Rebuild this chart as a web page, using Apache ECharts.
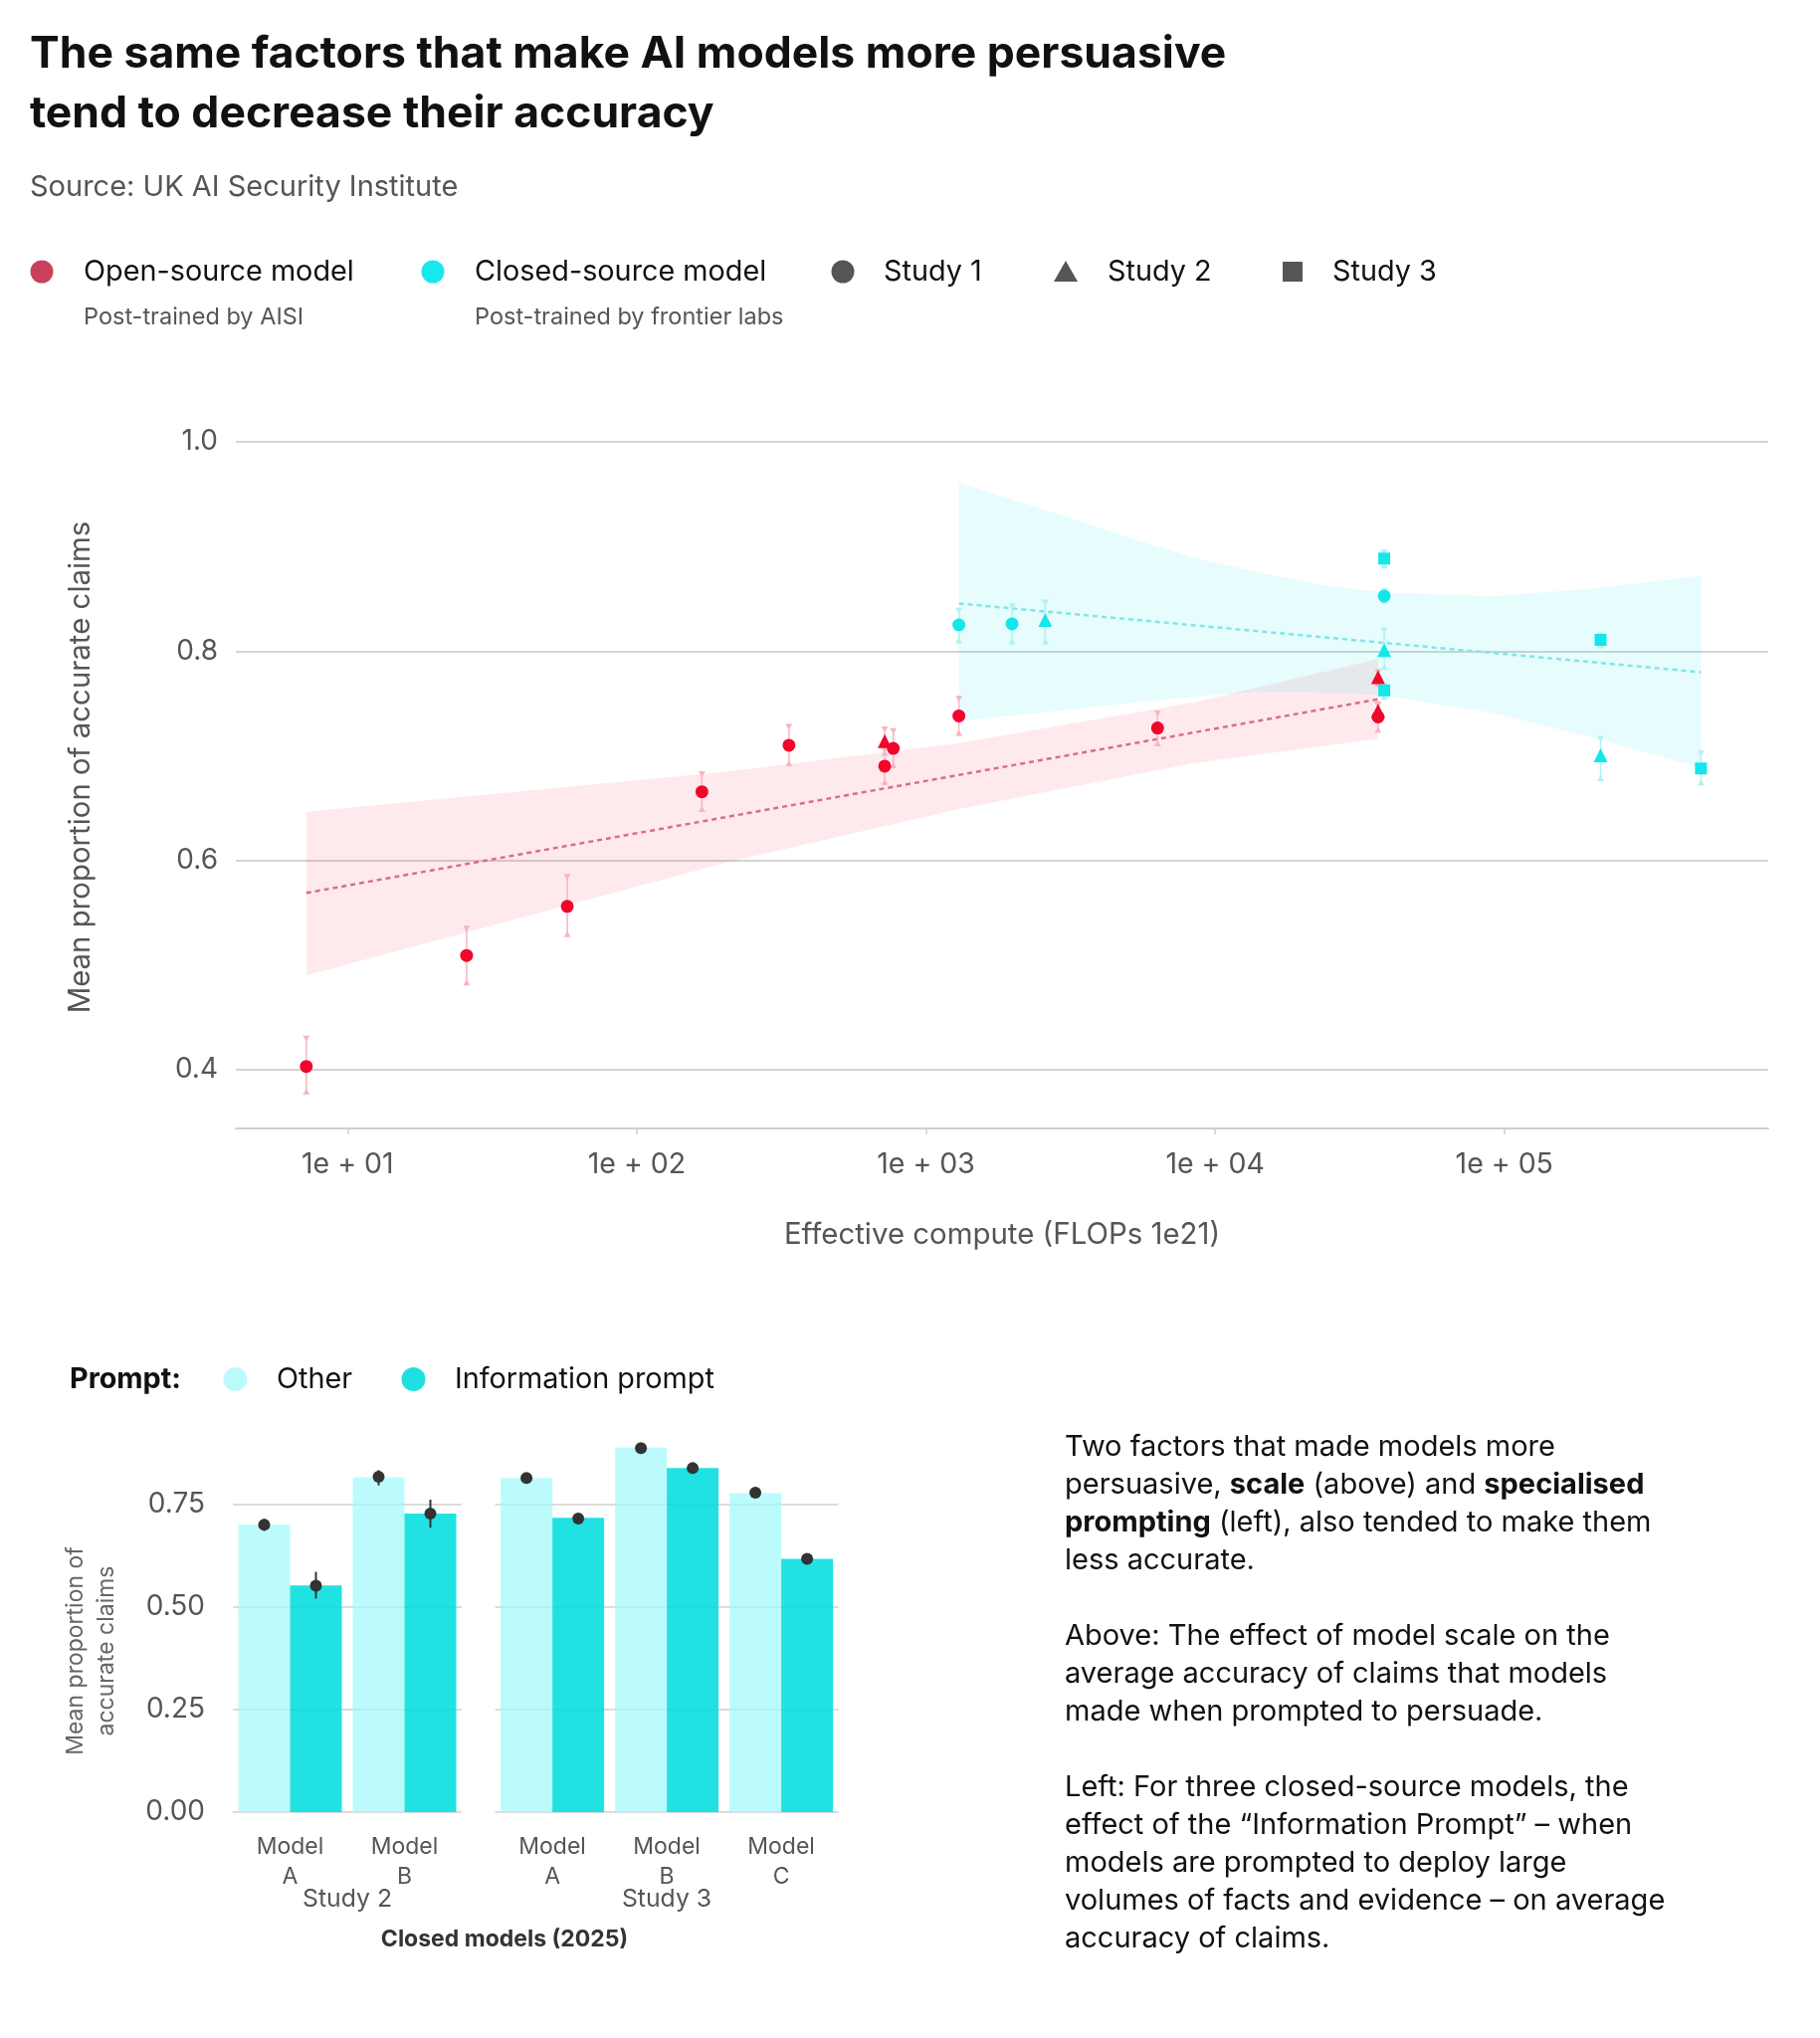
<!DOCTYPE html>
<html><head><meta charset="utf-8">
<script src="https://cdn.jsdelivr.net/npm/echarts@6/dist/echarts.min.js"></script>
<style>html,body{margin:0;padding:0;background:#fff}#c{width:1829px;height:2048px}</style>
</head><body><div id="c"></div>
<script>
// ---------- Data: top chart (effective compute vs accuracy) ----------
const openS1X  = [7.2, 25.8, 57.5, 168, 336, 720, 771, 1300, 6325, 36600];
const openS1Y  = [0.403, 0.509, 0.556, 0.6655, 0.710, 0.690, 0.707, 0.738, 0.7265, 0.737];
const openS1Lo = [0.376, 0.4805, 0.5265, 0.6462, 0.690, 0.672, 0.688, 0.719, 0.709, 0.722];
const openS1Hi = [0.4325, 0.5376, 0.5869, 0.6852, 0.7303, 0.708, 0.7262, 0.7573, 0.7433, 0.751];
const openS2X  = [720, 36600, 36600];
const openS2Y  = [0.714, 0.775, 0.743];
const openS2Lo = [0.700, 0.766, 0.733];
const openS2Hi = [0.728, 0.783, 0.752];

const closedS1X  = [1300, 1985, 38440];
const closedS1Y  = [0.825, 0.826, 0.8526];
const closedS1Lo = [0.8074, 0.8065, 0.8455];
const closedS1Hi = [0.8414, 0.8455, 0.8599];
const closedS2X  = [2585, 38440, 215300];
const closedS2Y  = [0.8297, 0.801, 0.7005];
const closedS2Lo = [0.8065, 0.782, 0.6757];
const closedS2Hi = [0.8493, 0.8227, 0.7186];
const closedS3X  = [38440, 38440, 215300, 478600];
const closedS3Y  = [0.8884, 0.7624, 0.8107, 0.6878];
const closedS3Lo = [0.8789, 0.7535, 0.8027, 0.6716];
const closedS3Hi = [0.897, 0.7693, 0.8176, 0.7049];

const openFitX = [7.2, 36600];
const openFitY = [0.5688, 0.754];
const closedFitX = [1300, 478600];
const closedFitY = [0.8455, 0.7798];

const openBandX  = [7.2, 204, 1300, 8470, 36600];
const openBandLo = [0.490, 0.598, 0.649, 0.693, 0.716];
const openBandHi = [0.6465, 0.6846, 0.712, 0.751, 0.7925];
const closedBandX  = [1300, 2864, 5000, 8241, 13964, 23714, 38440, 92000, 204600, 478600];
const closedBandLo = [0.733, 0.743, 0.750, 0.756, 0.7614, 0.760, 0.7576, 0.7408, 0.717, 0.6886];
const closedBandHi = [0.9605, 0.931, 0.909, 0.890, 0.8755, 0.863, 0.856, 0.8526, 0.8598, 0.872];

const xTickValues = [10, 100, 1000, 10000, 100000];
const yTickValues = [0.4, 0.6, 0.8, 1.0];

// ---------- Data: bottom chart (prompt effect) ----------
const study2Models = ['Model\nA', 'Model\nB'];
const study3Models = ['Model\nA', 'Model\nB', 'Model\nC'];
const study2Other   = [0.701, 0.816];
const study2OtherPt = [0.701, 0.818];
const study2OtherLo = [0.686, 0.797];
const study2OtherHi = [0.7154, 0.834];
const study2Info    = [0.553, 0.728];
const study2InfoPt  = [0.552, 0.728];
const study2InfoLo  = [0.521, 0.694];
const study2InfoHi  = [0.586, 0.762];
const study3Other   = [0.815, 0.889, 0.778];
const study3OtherPt = [0.815, 0.888, 0.779];
const study3OtherLo = [0.810, 0.883, 0.774];
const study3OtherHi = [0.820, 0.893, 0.784];
const study3Info    = [0.718, 0.839, 0.618];
const study3InfoPt  = [0.716, 0.839, 0.618];
const study3InfoLo  = [0.711, 0.834, 0.613];
const study3InfoHi  = [0.721, 0.844, 0.623];
const barTickValues = [0, 0.25, 0.5, 0.75];

// ---------- Styling ----------
const FONT = 'Inter, "Noto Sans", sans-serif';
const RED = '#f0072b', CYAN = '#14e6ea';
const RED_ERR = '#f6b6c0', CYAN_ERR = '#aef2f4';
const BAR_W = 52;

function errorBars(xs, lo, hi, color) {
  return {
    type: 'custom', xAxisIndex: 0, yAxisIndex: 0, z: 3, silent: true,
    data: xs.map((x, i) => [x, lo[i], hi[i]]),
    encode: { x: 0, y: [1, 2] },
    renderItem: (params, api) => {
      const t = api.coord([api.value(0), api.value(2)]);
      const b = api.coord([api.value(0), api.value(1)]);
      const x = t[0], w = 3.5, h = 6;
      return { type: 'group', children: [
        { type: 'line', shape: { x1: x, y1: t[1], x2: x, y2: b[1] }, style: { stroke: color, lineWidth: 1.5 } },
        { type: 'polygon', shape: { points: [[x - w, t[1]], [x + w, t[1]], [x, t[1] + h]] }, style: { fill: color } },
        { type: 'polygon', shape: { points: [[x - w, b[1]], [x + w, b[1]], [x, b[1] - h]] }, style: { fill: color } }
      ]};
    }
  };
}
function band(xs, lo, hi, fill) {
  return {
    type: 'custom', xAxisIndex: 0, yAxisIndex: 0, z: 1, silent: true,
    data: xs.map((x, i) => [x, lo[i], hi[i]]),
    encode: { x: 0, y: [1, 2] },
    renderItem: (params, api) => {
      if (params.dataIndex !== 0) return null;
      const pts = [];
      for (let i = 0; i < xs.length; i++) pts.push(api.coord([xs[i], hi[i]]));
      for (let i = xs.length - 1; i >= 0; i--) pts.push(api.coord([xs[i], lo[i]]));
      return { type: 'polygon', shape: { points: pts }, style: { fill } };
    }
  };
}
function pts(xs, ys, symbol, size, color) {
  return { type: 'scatter', xAxisIndex: 0, yAxisIndex: 0, z: 4, symbol, symbolSize: size,
    itemStyle: { color, opacity: 1 }, data: xs.map((x, i) => [x, ys[i]]) };
}
function fit(xs, ys, color) {
  return { type: 'line', xAxisIndex: 0, yAxisIndex: 0, z: 2, symbol: 'none', silent: true,
    lineStyle: { color, width: 2.5, type: [5, 4] }, data: xs.map((x, i) => [x, ys[i]]) };
}
function barPoints(axis, vals, lo, hi, side) {
  return {
    type: 'custom', xAxisIndex: axis, yAxisIndex: axis, z: 5, silent: true,
    data: vals.map((v, i) => [i, v, lo[i], hi[i]]),
    encode: { x: 0, y: [1, 2, 3] },
    renderItem: (params, api) => {
      const c = api.coord([api.value(0), api.value(1)]);
      const t = api.coord([api.value(0), api.value(3)]);
      const b = api.coord([api.value(0), api.value(2)]);
      const x = c[0] + side * BAR_W / 2;
      return { type: 'group', children: [
        { type: 'line', shape: { x1: x, y1: t[1], x2: x, y2: b[1] }, style: { stroke: '#333', lineWidth: 2 } },
        { type: 'circle', shape: { cx: x, cy: c[1], r: 6 }, style: { fill: '#333' } }
      ]};
    }
  };
}
function bars(axis, name, data, color) {
  return { type: 'bar', name, xAxisIndex: axis, yAxisIndex: axis, data, barWidth: BAR_W, barGap: '0%',
    itemStyle: { color }, silent: true, z: 2 };
}

function txt(text, x, y, size, opts) {
  opts = opts || {};
  return { type: 'text', x, y, rotation: opts.rotation || 0, silent: true,
    style: { text, font: (opts.weight || 'normal') + ' ' + size + 'px ' + FONT, fill: opts.color || '#111',
      align: opts.align || 'left', verticalAlign: opts.valign || 'middle', lineHeight: opts.lineHeight } };
}

const barYAxis = (gi, showLabel) => ({
  type: 'value', gridIndex: gi, min: 0, max: 0.92,
  axisLine: { show: false }, axisTick: { show: false, customValues: barTickValues },
  axisLabel: { show: showLabel, customValues: barTickValues, formatter: v => v.toFixed(2),
    fontFamily: FONT, fontSize: 28, color: '#555', margin: 28 },
  splitLine: { show: true, lineStyle: { color: '#dcdcdc', width: 2 } }
});
const barXAxis = (gi, cats) => ({
  type: 'category', gridIndex: gi, data: cats,
  axisLine: { show: false }, axisTick: { show: false },
  axisLabel: { fontFamily: FONT, fontSize: 23, color: '#555', lineHeight: 30, margin: 20 }
});

const para = (lines, x, y) => ({
  type: 'text', x, y, silent: true,
  style: { text: lines, font: '29px ' + FONT, fill: '#111', lineHeight: 38, verticalAlign: 'top', align: 'left',
    rich: { n: { fontSize: 29, fontFamily: FONT, fill: '#111', lineHeight: 38 },
            b: { fontSize: 29, fontFamily: FONT, fontWeight: 'bold', fill: '#111', lineHeight: 38 } } }
});

const option = {
  backgroundColor: '#fff',
  animation: false,
  title: [
    { text: 'The same factors that make AI models more persuasive\ntend to decrease their accuracy',
      left: 30, top: 25, padding: 0,
      textStyle: { fontFamily: FONT, fontSize: 44.5, fontWeight: 'bold', color: '#111', lineHeight: 60 } },
    { text: 'Source: UK AI Security Institute', left: 30, top: 171, padding: 0,
      textStyle: { fontFamily: FONT, fontSize: 29, fontWeight: 'normal', color: '#555', lineHeight: 34 } }
  ],
  grid: [
    { left: 237, right: 52, top: 444, bottom: 914 },
    { left: 234, width: 230, top: 1442, bottom: 227 },
    { left: 497.6, width: 345, top: 1442, bottom: 227 }
  ],
  xAxis: [
    { type: 'log', logBase: 10, gridIndex: 0, min: 4.108, max: 818000,
      axisLine: { show: true, lineStyle: { color: '#cfcfcf', width: 2 } },
      axisTick: { show: true, customValues: xTickValues, length: 6, lineStyle: { color: '#cfcfcf', width: 1.5 } },
      axisLabel: { customValues: xTickValues, fontFamily: FONT, fontSize: 28.5, color: '#555', margin: 22,
        formatter: v => { const e = Math.round(Math.log10(v)); return '1e + ' + (e < 10 ? '0' : '') + e; } },
      splitLine: { show: false } },
    barXAxis(1, study2Models),
    barXAxis(2, study3Models)
  ],
  yAxis: [
    { type: 'value', gridIndex: 0, min: 0.3437, max: 1.0,
      axisLine: { show: false }, axisTick: { show: false, customValues: yTickValues },
      axisLabel: { customValues: yTickValues, formatter: v => v.toFixed(1), fontFamily: FONT, fontSize: 28, color: '#555', margin: 18 },
      splitLine: { show: true, lineStyle: { color: '#d4d4d4', width: 2 } } },
    barYAxis(1, true),
    barYAxis(2, false)
  ],
  series: [
    band(openBandX, openBandLo, openBandHi, 'rgba(245,60,90,0.11)'),
    band(closedBandX, closedBandLo, closedBandHi, 'rgba(0,225,235,0.095)'),
    fit(openFitX, openFitY, '#dc6f80'),
    fit(closedFitX, closedFitY, '#7fe6ea'),
    errorBars(openS1X, openS1Lo, openS1Hi, RED_ERR),
    errorBars(openS2X, openS2Lo, openS2Hi, RED_ERR),
    errorBars(closedS1X, closedS1Lo, closedS1Hi, CYAN_ERR),
    errorBars(closedS2X, closedS2Lo, closedS2Hi, CYAN_ERR),
    errorBars(closedS3X, closedS3Lo, closedS3Hi, CYAN_ERR),
    pts(openS1X, openS1Y, 'circle', 13, RED),
    pts(openS2X, openS2Y, 'triangle', 14, RED),
    pts(closedS1X, closedS1Y, 'circle', 13, CYAN),
    pts(closedS2X, closedS2Y, 'triangle', 14, CYAN),
    pts(closedS3X, closedS3Y, 'rect', 12, CYAN),

    bars(1, 'Other', study2Other, 'rgba(160,250,250,0.7)'),
    bars(1, 'Information prompt', study2Info, 'rgba(0,222,222,0.87)'),
    bars(2, 'Other', study3Other, 'rgba(160,250,250,0.7)'),
    bars(2, 'Information prompt', study3Info, 'rgba(0,222,222,0.87)'),
    barPoints(1, study2OtherPt, study2OtherLo, study2OtherHi, -1),
    barPoints(1, study2InfoPt, study2InfoLo, study2InfoHi, 1),
    barPoints(2, study3OtherPt, study3OtherLo, study3OtherHi, -1),
    barPoints(2, study3InfoPt, study3InfoLo, study3InfoHi, 1)
  ],
  graphic: [
    // top legend
    { type: 'circle', shape: { cx: 42, cy: 273, r: 11.5 }, style: { fill: '#c9405c' }, silent: true },
    txt('Open-source model', 84, 273, 28.8),
    txt('Post-trained by AISI', 84, 319, 23.5, { color: '#555' }),
    { type: 'circle', shape: { cx: 435, cy: 273, r: 11.5 }, style: { fill: '#17e8ee' }, silent: true },
    txt('Closed-source model', 477, 273, 28.8),
    txt('Post-trained by frontier labs', 477, 319, 23.5, { color: '#555' }),
    { type: 'circle', shape: { cx: 847, cy: 273, r: 11.5 }, style: { fill: '#555' }, silent: true },
    txt('Study 1', 888, 273, 28.8),
    { type: 'polygon', shape: { points: [[1059, 283], [1083, 283], [1071, 262]] }, style: { fill: '#555' }, silent: true },
    txt('Study 2', 1113, 273, 28.8),
    { type: 'rect', shape: { x: 1289, y: 263, width: 20, height: 20 }, style: { fill: '#555' }, silent: true },
    txt('Study 3', 1339, 273, 28.8),
    // axis names top chart
    txt('Mean proportion of accurate claims', 81, 771, 29.4, { color: '#555', align: 'center', rotation: Math.PI / 2 }),
    txt('Effective compute (FLOPs 1e21)', 1007, 1241, 29.4, { color: '#555', align: 'center' }),
    // bottom legend
    txt('Prompt:', 70, 1386, 28.8, { weight: 'bold' }),
    { type: 'circle', shape: { cx: 236.5, cy: 1386, r: 12 }, style: { fill: '#bdfbfb' }, silent: true },
    txt('Other', 278, 1386, 28.8),
    { type: 'circle', shape: { cx: 415.5, cy: 1386, r: 12 }, style: { fill: '#1fe0e0' }, silent: true },
    txt('Information prompt', 457, 1386, 28.8),
    // bottom axis texts
    txt('Mean proportion of\naccurate claims', 92, 1659, 23, { color: '#666', align: 'center', rotation: Math.PI / 2, lineHeight: 31 }),
    txt('Study 2', 349, 1909, 24.8, { color: '#555', align: 'center' }),
    txt('Study 3', 670, 1909, 24.8, { color: '#555', align: 'center' }),
    txt('Closed models (2025)', 507, 1949, 23, { color: '#333', align: 'center', weight: 'bold' }),
    // right text
    para('{n|Two factors that made models more}\n{n|persuasive, }{b|scale}{n| (above) and }{b|specialised}\n{b|prompting}{n| (left), also tended to make them}\n{n|less accurate.}', 1070, 1435),
    para('{n|Above: The effect of model scale on the}\n{n|average accuracy of claims that models}\n{n|made when prompted to persuade.}', 1070, 1625),
    para('{n|Left: For three closed-source models, the}\n{n|effect of the “Information Prompt” – when}\n{n|models are prompted to deploy large}\n{n|volumes of facts and evidence – on average}\n{n|accuracy of claims.}', 1070, 1777)
  ]
};
const chart = echarts.init(document.getElementById('c'), null, { renderer: 'canvas' });
chart.setOption(option);
</script></body></html>
